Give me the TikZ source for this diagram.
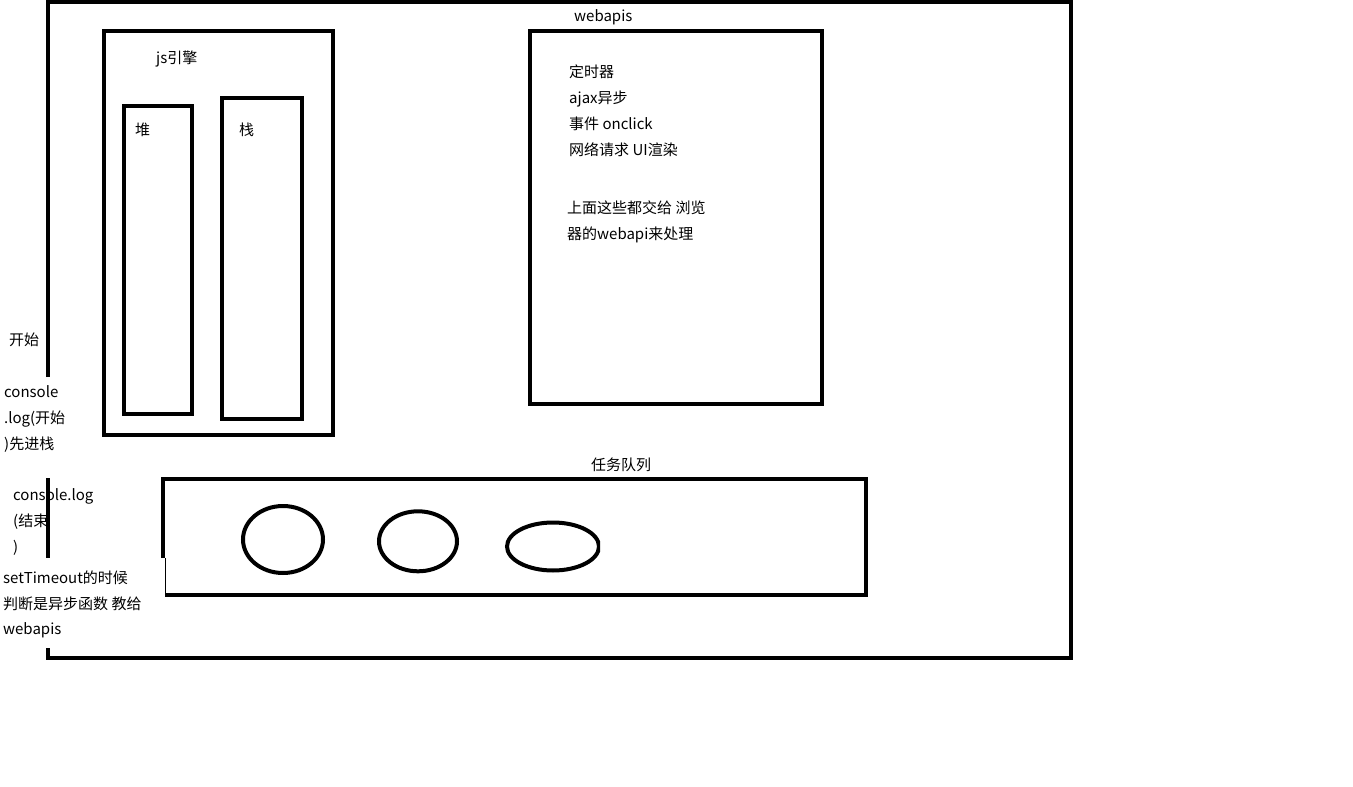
\documentclass[tikz,border=0pt]{standalone}
\usepackage{fontspec}
\setmainfont{Noto Sans CJK SC}
\usepackage{tikz}
\usepackage{xcolor}
\tikzstyle{box} = [line width=4.5pt, line join=miter]

\begin{document}
\begin{tikzpicture}[x=1pt,y=-1pt]
\tikzset{every node/.style={anchor=base west, inner sep=0pt, font=\fontsize{15pt}{18pt}\selectfont}}
\useasboundingbox (0,0) rectangle (1353,787);
\fill[white] (0,0) rectangle (1353,787);

% outer frame, left side broken by the notes
\draw[box] (48,377) -- (48,1.5) -- (1071,1.5) -- (1071,658) -- (48,658) -- (48,648);
\draw[box] (48,478) -- (48,558);

% js engine
\draw[box] (104,31) rectangle (333,435);
\draw[box] (124,106) rectangle (192,414);
\draw[box] (222,98) rectangle (302,419);
\node (engine) at (156,63) {js引擎};
\node (heap) at (135,135) {堆};
\node (stack) at (239,135) {栈};

% webapis
\draw[box] (530,31) rectangle (822,404);
\node (webapis) at (574,21) {webapis};
\foreach \i/\x/\y/\t in {1/569/77/定时器,2/569/103/ajax异步,3/569/129/事件 onclick,4/569/155/网络请求 UI渲染,5/567/213/上面这些都交给 浏览,6/567/239/器的webapi来处理}
{
	\node (api\i) at (\x,\y) {\t};
}

% task queue
\draw[box] (163,558) -- (163,479) -- (866,479) -- (866,595) -- (165,595);
\draw[line width=1pt] (165.5,558) -- (165.5,595);
\node (queue) at (591,470) {任务队列};
\begin{scope}
\clip (0,0) rectangle (600,787);
\foreach \cx/\cy/\rx/\ry in {283/539.5/40/33.5,418/541.3/39/30,553/546.5/46/24}
{
	\draw[line width=4pt] (\cx,\cy) ellipse ({\rx} and {\ry});
}
\end{scope}

% notes on the left
\node (start) at (9,345) {开始};
\foreach \i/\x/\y/\t in {1/4/397/console,2/4/423/.log(开始,3/4/449/)先进栈,4/13/500/console.log,5/13/526/(结束,6/13/552/),7/3/583/setTimeout的时候,8/3/609/判断是异步函数 教给,9/3/634/webapis}
{
	\node (note\i) at (\x,\y) {\t};
}

\end{tikzpicture}
\end{document}
